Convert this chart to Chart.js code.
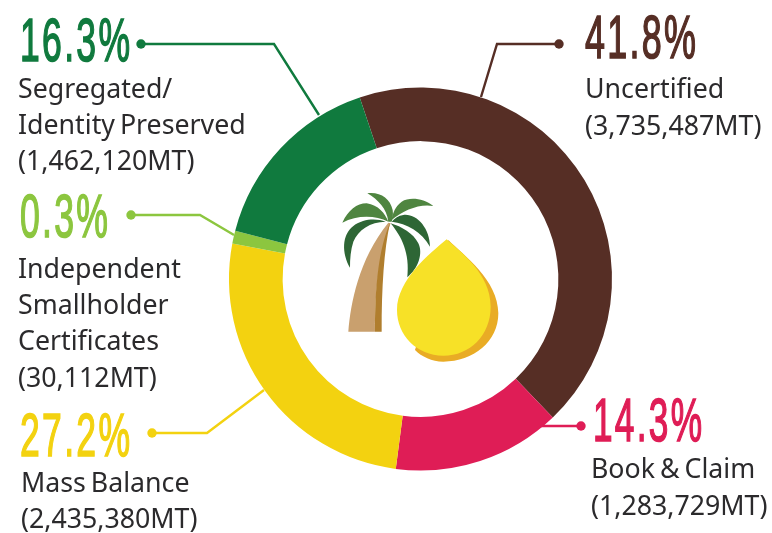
<!DOCTYPE html>
<html>
<head>
<meta charset="utf-8">
<title>Certified palm oil</title>
<script src="https://cdn.jsdelivr.net/npm/chart.js@4"></script>
<style>
    html, body { margin: 0; padding: 0; background: #fff; }
    canvas { display: block; }
</style>
</head>
<body>
<canvas id="ringChart" width="772" height="533"></canvas>
<script>
// ======================
// DATA
// ======================

const categories = ["Uncertified", "Book & Claim", "Mass Balance", "Independent Smallholder Certificates", "Segregated/Identity Preserved"];
const percentLabels = ["41.8%", "14.3%", "27.2%", "0.3%", "16.3%"];
const tonnageLabels = ["(3,735,487MT)", "(1,283,729MT)", "(2,435,380MT)", "(30,112MT)", "(1,462,120MT)"];

// arc shares as drawn in the picture: the arcs do not follow the printed numbers exactly,
// the 0.3% sliver for one is drawn much wider than its number
const drawnShares = [43.0, 14.2, 25.9, 1.1, 15.8];

const sliceColors = ["#562E25", "#DF1D56", "#F3D210", "#8CC63F", "#107A3E"];
const TEXT_COLOR = "#2B2A2C";

// ======================
// LABEL LAYOUT
// ======================

const labelLayout = [
    {
        percent: { x: 585, y: 58, w: 111 },
        lines: [["Uncertified", 585, 98], [tonnageLabels[0], 585, 135]],
        leader: [[559, 44], [497, 44], [481, 97]]
    },
    {
        percent: { x: 593, y: 441, w: 109 },
        lines: [["Book & Claim", 591, 478], [tonnageLabels[1], 591, 515]],
        leader: [[581, 426], [540, 426]]
    },
    {
        percent: { x: 20, y: 456, w: 110 },
        lines: [["Mass Balance", 21, 492], [tonnageLabels[2], 21, 528]],
        leader: [[152, 433], [207, 433], [264, 390]]
    },
    {
        percent: { x: 20, y: 237, w: 88 },
        lines: [["Independent", 18, 278], ["Smallholder", 18, 314], ["Certificates", 18, 350], [tonnageLabels[3], 18, 387]],
        leader: [[131, 215], [200, 215], [234, 235]]
    },
    {
        percent: { x: 20, y: 61, w: 110 },
        lines: [["Segregated/", 18, 98], ["Identity Preserved", 18, 134], [tonnageLabels[4], 18, 170]],
        leader: [[141, 44], [274, 44], [319, 115]]
    }
];

// ======================
// PALM AND DROP ICON
// ======================

function drawIcon(ctx) {

    const parts = [
        ["#E9AC25", "M385 210 C430 255 535 330 535 430 C535 515 460 575 370 575 C335 575 305 560 285 540 Z"],
        ["#C9A06E", "M85 485 C92 400 115 270 205 158 L212 160 C180 240 165 350 165 485 Z"],
        ["#B07E2E", "M165 485 C165 350 175 240 210 158 C192 240 185 350 185 485 Z"],
        ["#2E6635", "M90 293 C65 250 65 195 100 168 C130 145 170 145 197 155 C150 155 115 180 100 215 C92 240 90 265 90 293 Z"],
        ["#2E6635", "M330 230 C330 175 290 130 250 135 C235 137 225 145 215 155 C260 160 305 185 330 230 Z"],
        ["#2E6635", "M262 322 C295 295 310 250 295 220 C280 190 245 170 212 160 C245 200 270 250 262 322 Z"],
        ["#F7E127", "M380 208 C420 245 512 310 512 410 C512 495 450 557 370 557 C290 557 231 495 231 420 C231 330 330 250 380 208 Z"],
        ["#4F8540", "M142 70 C180 65 210 85 218 120 C220 135 218 145 215 155 L205 155 C200 115 175 90 142 70 Z"],
        ["#4F8540", "M340 108 C310 85 270 80 245 95 C225 110 218 130 215 150 C250 120 300 100 340 108 Z"],
        ["#4F8540", "M67 158 C85 120 110 100 140 100 C175 105 195 130 205 155 C165 135 110 135 67 158 Z"]
    ];

    ctx.save();
    ctx.translate(320, 170);
    ctx.scale(1 / 3, 1 / 3);

    parts.forEach(part => {
        ctx.fillStyle = part[0];
        ctx.fill(new Path2D(part[1]));
    });

    ctx.restore();
}

// ======================
// LABELS AND LEADERS
// ======================

const ringLabels = {

    id: "ringLabels",

    afterDraw(chart) {

        const ctx = chart.ctx;

        drawIcon(ctx);

        ctx.textBaseline = "alphabetic";
        ctx.textAlign = "left";

        labelLayout.forEach((label, i) => {

            const color = sliceColors[i];

            // leader line with its dot
            ctx.strokeStyle = color;
            ctx.fillStyle = color;
            ctx.lineWidth = 2.4;
            ctx.beginPath();
            label.leader.forEach((p, n) => n ? ctx.lineTo(p[0], p[1]) : ctx.moveTo(p[0], p[1]));
            ctx.stroke();
            ctx.beginPath();
            ctx.arc(label.leader[0][0], label.leader[0][1], 4.7, 0, Math.PI * 2);
            ctx.fill();

            // big condensed percentage, squeezed to the width it has in the picture
            ctx.font = "62px 'Liberation Sans Narrow', 'Liberation Sans'";
            ctx.letterSpacing = "4px";
            ctx.lineWidth = 1.6;
            const natural = ctx.measureText(percentLabels[i]).width - 4;
            ctx.save();
            ctx.translate(label.percent.x, label.percent.y);
            ctx.scale(label.percent.w / natural, 1);
            ctx.fillText(percentLabels[i], 0, 0);
            ctx.strokeText(percentLabels[i], 0, 0);
            ctx.restore();
            ctx.letterSpacing = "0px";

            // name and tonnage lines
            ctx.font = "27px 'Noto Sans'";
            ctx.wordSpacing = "-2px";
            ctx.fillStyle = TEXT_COLOR;
            label.lines.forEach(line => {
                ctx.save();
                ctx.translate(line[1], line[2]);
                ctx.scale(0.99, 1);
                ctx.fillText(line[0], 0, 0);
                ctx.restore();
            });
            ctx.wordSpacing = "0px";
        });
    }
};

// ======================
// DOUGHNUT CHART
// ======================

new Chart(
    document.getElementById("ringChart"),
    {
        type: "doughnut",

        data: {

            labels: categories,

            datasets: [{
                data: drawnShares,
                backgroundColor: sliceColors,
                borderWidth: 0
            }]
        },

        options: {
            responsive: false,
            animation: false,
            rotation: -18.5,
            cutout: "72%",
            layout: {
                padding: { left: 229, right: 160, top: 87, bottom: 62 }
            },
            plugins: {
                legend: { display: false },
                tooltip: { enabled: false }
            }
        },

        plugins: [ringLabels]
    }
);
</script>
</body>
</html>
